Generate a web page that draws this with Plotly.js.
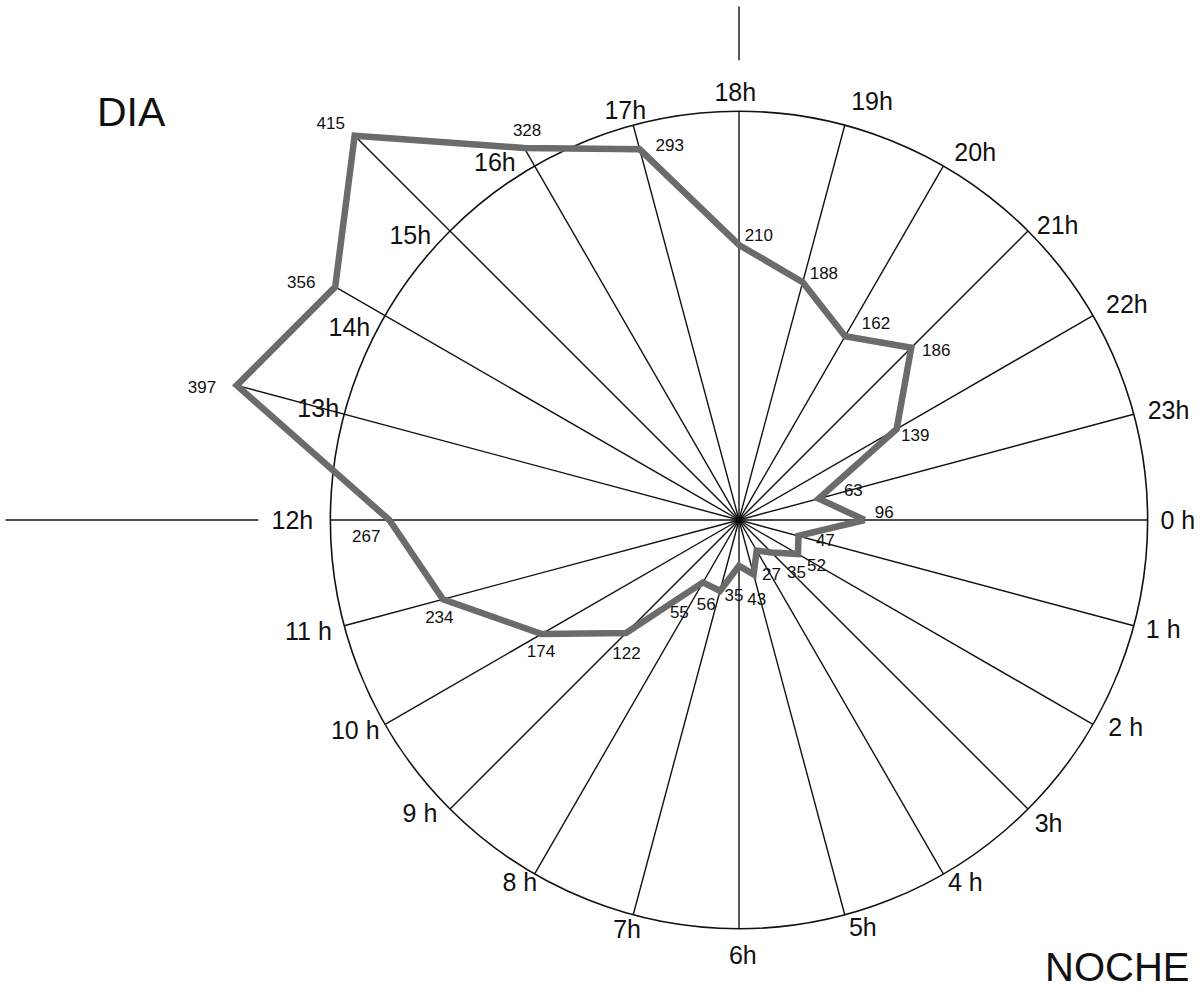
<!DOCTYPE html>
<html><head><meta charset="utf-8">
<script src="https://cdn.plot.ly/plotly-3.0.1.min.js"></script>
<style>
html,body{margin:0;padding:0;overflow:hidden;background:#fff;width:1201px;height:988px;}
#chart{position:absolute;left:-1px;top:-220px;width:1480px;height:1480px;}
</style></head><body><div id="chart"></div>
<script>
// ---- data ----
const hours = [0,1,2,3,4,5,6,7,8,9,10,11,12,13,14,15,16,17,18,19,20,21,22,23];
const hourLabels = ['0 h','1 h','2 h','3h','4 h','5h','6h','7h','8 h','9 h','10 h','11 h',
                    '12h','13h','14h','15h','16h','17h','18h','19h','20h','21h','22h','23h'];
const counts = [96,47,52,35,27,43,35,56,55,122,174,234,267,397,356,415,328,293,210,188,162,186,139,63];
const circleValue = 312;

// ---- label placement (styling only: radial gap in axis units, angular nudge in degrees) ----
const valueLabelGap   = [15,21,17,25,22,20,24,14,30,12,8,7,18,25,24,19,10,-3,7,10,20,12,10,27];
const valueLabelNudge = [-2.4,-0.8,0.9,-2.1,-0.5,2.6,3.7,6.0,2.4,-5.1,-3.8,-3.3,-2.8,-1.3,-1.6,-0.9,1.4,4.5,4.0,4.1,5.1,4.5,4.6,1.0];
const hourLabelGap    = [23,23,24,20,16,15,22,14,13,20,23,28,29,20,19,19,17,11,13,22,20,18,26,26];
const hourLabelNudge  = [0.3,-0.2,-1.5,-0.4,-1.8,-1.8,-0.5,0.2,1.0,2.2,1.0,0.2,-0.4,-0.4,-4.0,-4.3,-4.5,-0.6,-0.5,2.7,2.9,2.5,1.2,1.0];

const W = 1480, H = 1480, divLeft = -1, divTop = -220;
const RMAX = 565;
const toAngle = h => h * 15;
const theta = hours.map(toAngle);

// spokes: centre to circle (or to the point when it lies outside)
const spokeR = [], spokeT = [];
hours.forEach((h, i) => {
  spokeR.push(0, Math.max(circleValue, counts[i]), null);
  spokeT.push(toAngle(h), toAngle(h), null);
});
// axis extensions at 18h (top) and 12h (left)
spokeR.push(351, 392, null, 367, 560);
spokeT.push(toAngle(18), toAngle(18), null, toAngle(12), toAngle(12));

const font = 'Liberation Sans, Arial, sans-serif';

const traces = [
  {type:'scatterpolar', mode:'lines', r:spokeR, theta:spokeT, connectgaps:false,
   line:{color:'#111', width:1.4}, hoverinfo:'skip', showlegend:false},
  {type:'scatterpolar', mode:'lines', r:counts.concat([counts[0]]), theta:theta.concat([theta[0]]),
   line:{color:'#6b6b6b', width:6.5}, showlegend:false, name:'Registros'},
  {type:'scatterpolar', mode:'text',
   r:counts.map((v, i) => v + valueLabelGap[i]),
   theta:theta.map((t, i) => t + valueLabelNudge[i]),
   text:counts.map(String), textposition:'middle center',
   textfont:{family:font, size:17, color:'#111'},
   cliponaxis:false, hoverinfo:'skip', showlegend:false},
  {type:'scatterpolar', mode:'text',
   r:hours.map((h, i) => circleValue + hourLabelGap[i]),
   theta:theta.map((t, i) => t + hourLabelNudge[i]),
   text:hourLabels, textposition:'middle center',
   textfont:{family:font, size:25, color:'#111'},
   cliponaxis:false, hoverinfo:'skip', showlegend:false}
];

const px = x => (x - divLeft) / W;
const py = y => 1 - (y - divTop) / H;

const layout = {
  width: W, height: H,
  margin: {l:0, r:0, t:0, b:0},
  paper_bgcolor: '#fff',
  showlegend: false,
  polar: {
    domain: {x:[0,1], y:[0,1]},
    bgcolor: 'rgba(0,0,0,0)',
    radialaxis: {range:[0, RMAX], tickvals:[circleValue], showticklabels:false, ticks:'',
                 showline:false, showgrid:true, gridcolor:'#111', gridwidth:1.6},
    angularaxis: {direction:'clockwise', rotation:0, showgrid:false, showline:false,
                  showticklabels:false, ticks:''}
  },
  annotations: [
    {text:'DIA', xref:'paper', yref:'paper', x:px(131), y:py(112), xanchor:'center', yanchor:'middle',
     showarrow:false, font:{family:font, size:41, color:'#111'}},
    {text:'NOCHE', xref:'paper', yref:'paper', x:px(1117), y:py(967), xanchor:'center', yanchor:'middle',
     showarrow:false, font:{family:font, size:40, color:'#111'}}
  ]
};

Plotly.newPlot('chart', traces, layout, {displayModeBar:false, staticPlot:true});
</script></body></html>
